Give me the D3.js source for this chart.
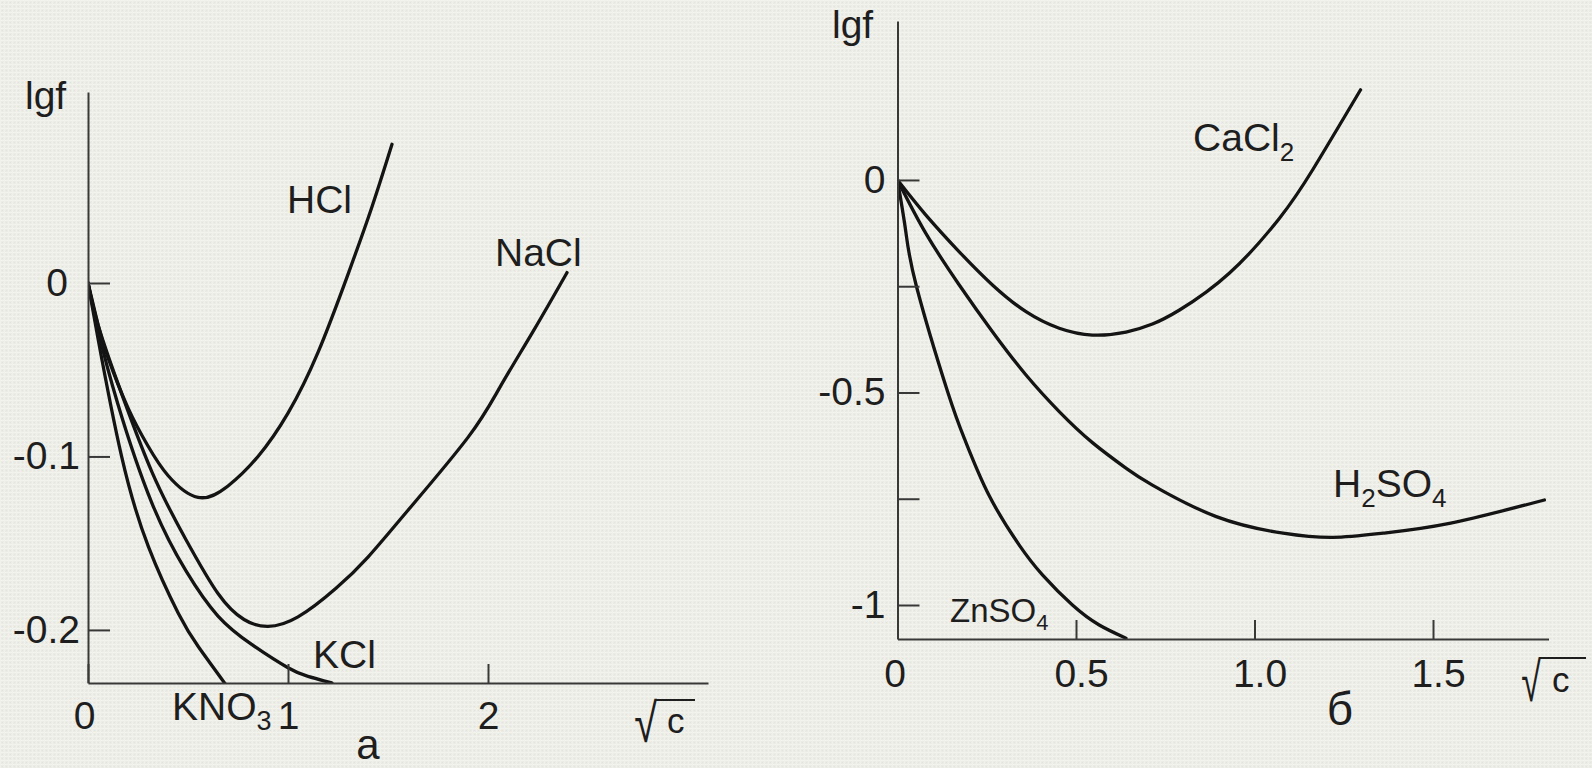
<!DOCTYPE html>
<html>
<head>
<meta charset="utf-8">
<script src="https://cdn.jsdelivr.net/npm/d3@7"></script>
<style>
	html, body { margin: 0; padding: 0; background: #ececE6; }
	svg { display: block; }
	text { font-family: "Liberation Sans", Arial, sans-serif; fill: #1e1e1e; }
</style>
</head>
<body>
<div id="chart"></div>
<script>
// panel а : lgf vs sqrt(c) for 1-1 electrolytes
var hclX  = [0, 0.05, 0.1, 0.2, 0.3, 0.4, 0.55, 0.7, 0.85, 1.0, 1.15, 1.3, 1.42, 1.52];
var hclY  = [0, -0.024, -0.043, -0.072, -0.094, -0.111, -0.1236, -0.117, -0.100, -0.075, -0.040, 0.005, 0.044, 0.080];
var naclX = [0, 0.05, 0.15, 0.32, 0.49, 0.65, 0.78, 0.9, 1.05, 1.24, 1.4, 1.6, 1.9, 2.06, 2.23, 2.395];
var naclY = [0, -0.024, -0.058, -0.109, -0.148, -0.179, -0.194, -0.198, -0.1925, -0.176, -0.158, -0.131, -0.089, -0.060, -0.027, 0.006];
var kclX  = [0, 0.05, 0.15, 0.32, 0.49, 0.65, 0.82, 1.0, 1.1, 1.22];
var kclY  = [0, -0.027, -0.070, -0.127, -0.166, -0.192, -0.2085, -0.2218, -0.2268, -0.2306];
var kno3X = [0, 0.05, 0.168, 0.302, 0.452, 0.552, 0.685];
var kno3Y = [0, -0.032, -0.1, -0.152, -0.1905, -0.2097, -0.2309];

// panel б : higher charge types
var cacl2X = [0, 0.079, 0.173, 0.266, 0.36, 0.453, 0.546, 0.64, 0.714, 0.79, 0.93, 1.07, 1.163, 1.297];
var cacl2Y = [0, -0.082, -0.169, -0.247, -0.31, -0.349, -0.365, -0.358, -0.339, -0.306, -0.219, -0.09, 0.024, 0.212];
var h2so4X = [0, 0.079, 0.173, 0.266, 0.36, 0.453, 0.546, 0.64, 0.714, 0.893, 1.08, 1.22, 1.36, 1.546, 1.812];
var h2so4Y = [0, -0.125, -0.247, -0.357, -0.459, -0.545, -0.618, -0.678, -0.718, -0.792, -0.831, -0.841, -0.831, -0.808, -0.753];
var znso4X = [0, 0.023, 0.053, 0.14, 0.191, 0.257, 0.341, 0.406, 0.49, 0.565, 0.64];
var znso4Y = [0, -0.12, -0.25, -0.497, -0.616, -0.743, -0.859, -0.929, -1.0, -1.047, -1.078];

var ticksAX = [0, 1, 2];
var ticksAY = [0, -0.1, -0.2];
var ticksBX = [0, 0.5, 1, 1.5];
var ticksBY = [0, -0.25, -0.5, -0.75, -1];
var labelledBY = [0, -0.5, -1];

var W = 1592, H = 768;
var FONT = 39;
var FAMILY = '"Liberation Sans", Arial, sans-serif';

var svg = d3.select('#chart').append('svg')
	.attr('width', W)
	.attr('height', H);

// canvas-like paper texture
var defs = svg.append('defs');
var pat = defs.append('pattern')
	.attr('id', 'paper')
	.attr('width', 4).attr('height', 4)
	.attr('patternUnits', 'userSpaceOnUse');
pat.append('rect').attr('width', 4).attr('height', 4).attr('fill', '#ececE6');
pat.append('rect').attr('width', 4).attr('height', 1).attr('fill', '#f3f3ee');
pat.append('rect').attr('width', 1).attr('height', 4).attr('fill', '#f1f1ec');
pat.append('rect').attr('x', 2).attr('y', 2).attr('width', 1).attr('height', 1).attr('fill', '#e3e3dc');

svg.append('rect').attr('width', W).attr('height', H).attr('fill', 'url(#paper)');

function styleAxis(g) {
	g.attr('font-size', FONT).attr('font-family', FAMILY);
	g.select('.domain').attr('stroke', '#383838').attr('stroke-width', 2);
	g.selectAll('.tick line').attr('stroke', '#383838').attr('stroke-width', 2);
	g.selectAll('.tick text').attr('fill', '#1e1e1e');
}

// text with chemistry subscripts, parts = [[str, isSub], ...]
function chem(x, y, parts, size, subSize, subDy) {
	var t = svg.append('text').attr('x', x).attr('y', y).attr('font-size', size);
	var down = false;
	parts.forEach(function(p) {
		var s = t.append('tspan').text(p[0]);
		if (p[1] && !down) { s.attr('dy', subDy).attr('font-size', subSize); down = true; }
		else if (!p[1] && down) { s.attr('dy', -subDy); down = false; }
	});
	return t;
}

// radical sign fitted into box (ink measured on a canvas), then vinculum and "c"
var measureCtx = document.createElement('canvas').getContext('2d');
function sqrtLabel(box, lineEnd, cX, cY) {
	measureCtx.font = '100px ' + FAMILY;
	var m = measureCtx.measureText('\u221A');
	var L = m.actualBoundingBoxLeft, R = m.actualBoundingBoxRight;
	var A = m.actualBoundingBoxAscent, D = m.actualBoundingBoxDescent;
	var sx = (box.x1 - box.x0) / (L + R);
	var sy = (box.y1 - box.y0) / (A + D);
	svg.append('text')
		.attr('font-size', 100)
		.attr('transform', 'translate(' + (box.x0 + L * sx) + ',' + (box.y0 + A * sy) + ') scale(' + sx + ',' + sy + ')')
		.text('\u221A');
	svg.append('line')
		.attr('x1', box.x1 - 1.5).attr('x2', lineEnd)
		.attr('y1', box.y0 + 1).attr('y2', box.y0 + 1)
		.attr('stroke', '#1e1e1e').attr('stroke-width', 2.2);
	svg.append('text').attr('x', cX).attr('y', cY).attr('font-size', 35).text('c');
}

function drawPanel(p) {
	var clipId = 'clip' + p.id;
	defs.append('clipPath').attr('id', clipId)
		.append('rect')
		.attr('x', p.x.range()[0]).attr('y', p.y.range()[1])
		.attr('width', p.x.range()[1] - p.x.range()[0])
		.attr('height', p.y.range()[0] - p.y.range()[1]);

	var line = d3.line()
		.x(function(d) { return p.x(d[0]); })
		.y(function(d) { return p.y(d[1]); })
		.curve(d3.curveNatural);

	svg.append('g').attr('clip-path', 'url(#' + clipId + ')')
		.selectAll('path').data(p.series).enter()
		.append('path')
			.attr('d', function(s) { return line(d3.zip(s.x, s.y)); })
			.attr('fill', 'none')
			.attr('stroke', '#141414')
			.attr('stroke-width', 3.3)
			.attr('stroke-linecap', 'round');

	var gy = svg.append('g')
		.attr('transform', 'translate(' + p.x(0) + ',0)')
		.call(d3.axisLeft(p.y).tickValues(p.ticksY).tickSizeInner(-22).tickSizeOuter(0)
			.tickPadding(p.padY).tickFormat(p.fmtY));
	styleAxis(gy);
	gy.selectAll('.tick text').attr('dx', function(d) { return d === 0 ? p.zeroDY : 0; });

	var gx = svg.append('g')
		.attr('transform', 'translate(0,' + p.y.range()[0] + ')')
		.call(d3.axisBottom(p.x).tickValues(p.ticksX).tickSizeInner(-19).tickSizeOuter(0)
			.tickPadding(p.padX).tickFormat(p.fmtX));
	styleAxis(gx);
	gx.selectAll('.tick text').attr('dx', function(d) { return d === 0 ? p.zeroDX : p.otherDX; });
}

// ---- panel а
var xA = d3.scaleLinear().domain([0, 3.1]).range([88, 708]);
var yA = d3.scaleLinear().domain([-0.2306, 0.1101]).range([683, 92]);

drawPanel({
	id: 'A', x: xA, y: yA,
	series: [
		{ name: 'HCl', x: hclX, y: hclY },
		{ name: 'NaCl', x: naclX, y: naclY },
		{ name: 'KCl', x: kclX, y: kclY },
		{ name: 'KNO3', x: kno3X, y: kno3Y }
	],
	ticksX: ticksAX, ticksY: ticksAY,
	fmtX: function(d) { return String(d); },
	fmtY: function(d) { return String(d); },
	padY: 8, padX: 18, zeroDY: -12, zeroDX: -4, otherDX: 0
});

svg.append('text').attr('x', 25).attr('y', 109).attr('font-size', FONT).text('lgf');
chem(xA(0.995), yA(0.0404), [['HCl', 0]], FONT, 26, 10);
chem(xA(2.035), yA(0.0098), [['NaCl', 0]], FONT, 26, 10);
chem(xA(1.125), yA(-0.222), [['KCl', 0]], FONT, 26, 10);
chem(172, 720, [['KNO', 0], ['3', 1]], FONT, 27, 10);
sqrtLabel({ x0: 635, x1: 657, y0: 699, y1: 743 }, 695, 667, 733);
svg.append('text').attr('x', 368).attr('y', 759).attr('font-size', 42)
	.attr('text-anchor', 'middle').text('а');

// ---- panel б
var xB = d3.scaleLinear().domain([0, 1.8235]).range([897.5, 1548.5]);
var yB = d3.scaleLinear().domain([-1.08, 0.374]).range([639, 21]);

drawPanel({
	id: 'B', x: xB, y: yB,
	series: [
		{ name: 'CaCl2', x: cacl2X, y: cacl2Y },
		{ name: 'H2SO4', x: h2so4X, y: h2so4Y },
		{ name: 'ZnSO4', x: znso4X, y: znso4Y }
	],
	ticksX: ticksBX, ticksY: ticksBY,
	fmtX: function(d) { return d === 0 ? '0' : d.toFixed(1); },
	fmtY: function(d) { return labelledBY.indexOf(d) >= 0 ? String(d) : ''; },
	padY: 12, padX: 20, zeroDY: 0, zeroDX: -3, otherDX: 5
});

svg.append('text').attr('x', 832).attr('y', 38).attr('font-size', FONT).text('lgf');
chem(xB(0.828), yB(0.068), [['CaCl', 0], ['2', 1]], FONT, 26, 10);
chem(xB(1.22), yB(-0.746), [['H', 0], ['2', 1], ['SO', 0], ['4', 1]], FONT, 26, 10);
chem(xB(0.147), yB(-1.04), [['ZnSO', 0], ['4', 1]], 33, 22, 8);
sqrtLabel({ x0: 1522, x1: 1541, y0: 657, y1: 702 }, 1586, 1552, 692);
svg.append('text').attr('x', 1340).attr('y', 725).attr('font-size', 46)
	.attr('text-anchor', 'middle').text('б');
</script>
</body>
</html>
